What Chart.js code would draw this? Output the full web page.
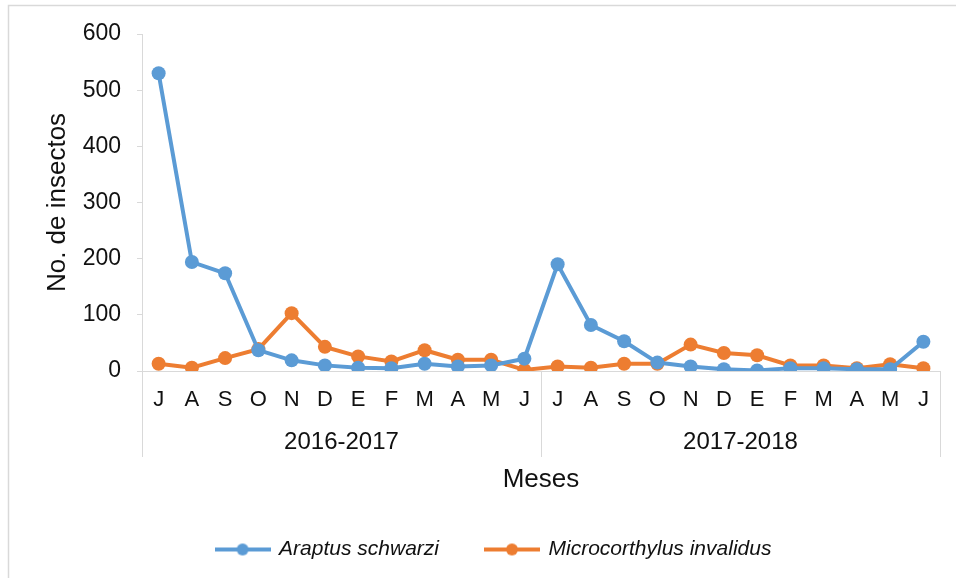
<!DOCTYPE html>
<html>
<head>
<meta charset="utf-8">
<script src="https://cdn.jsdelivr.net/npm/chart.js@4"></script>
<style>
  body { margin: 0; background: #fff; }
  canvas { display: block; }
</style>
</head>
<body>
<canvas id="chart1" width="956" height="578"></canvas>
<script>
// months per season, and season labels
const months = ['J', 'A', 'S', 'O', 'N', 'D', 'E', 'F', 'M', 'A', 'M', 'J',
                'J', 'A', 'S', 'O', 'N', 'D', 'E', 'F', 'M', 'A', 'M', 'J'];
const seasons = ['2016-2017', '2017-2018'];

// insect counts
const araptus = [530, 194, 174, 37, 19, 10, 6, 5, 13, 8, 10, 22,
                 190, 82, 53, 15, 8, 3, 1, 5, 5, 3, 3, 52];
const microcorthylus = [13, 6, 23, 39, 103, 43, 26, 17, 37, 20, 20, 2,
                        8, 6, 13, 13, 47, 32, 28, 10, 10, 5, 12, 5];

const yTicks = { min: 0, max: 600, step: 100 };

const blue = '#5B9BD5';
const orange = '#ED7D31';
const grey = '#d9d9d9';
const font = "'Liberation Sans', Arial, sans-serif";

// legend marker: line with a dot in the middle
function legendMarker(color) {
    const c = document.createElement('canvas');
    c.width = 56;
    c.height = 14;
    const g = c.getContext('2d');
    g.strokeStyle = color;
    g.lineWidth = 4;
    g.beginPath();
    g.moveTo(0, 7);
    g.lineTo(56, 7);
    g.stroke();
    g.fillStyle = color;
    g.beginPath();
    g.arc(28, 7, 6, 0, Math.PI * 2);
    g.fill();
    return c;
}

// outer frame + season separators
const framePlugin = {
    id: 'frame',
    afterLayout(chart) {
        // legend sits a bit right of centre in the original
        if (chart.legend) {
            chart.legend.left += 24;
            chart.legend.right += 24;
        }
    },
    beforeDraw(chart) {
        const ctx = chart.ctx;
        ctx.save();
        ctx.strokeStyle = grey;
        ctx.lineWidth = 1.5;
        ctx.strokeRect(8.5, 5.5, 1000, 1000);
        ctx.restore();
    },
    afterDraw(chart) {
        const xs = chart.scales.x;
        const x2 = chart.scales.x2;
        const ctx = chart.ctx;
        ctx.save();
        ctx.strokeStyle = grey;
        ctx.lineWidth = 1;
        [-0.5, 11.5, 23.5].forEach(v => {
            const px = Math.round(xs.getPixelForValue(v)) + 0.5;
            ctx.beginPath();
            ctx.moveTo(px, xs.top);
            ctx.lineTo(px, x2.top + 46);
            ctx.stroke();
        });
        ctx.restore();
    }
};

const ctx = document.querySelector('#chart1');

const chart = new Chart(ctx, {
    type: 'line',
    data: {
        labels: months,
        datasets: [{
            label: 'Araptus schwarzi',
            data: araptus,
            borderColor: blue,
            backgroundColor: blue,
            borderWidth: 4,
            pointRadius: 7,
            pointBorderWidth: 0,
            pointStyle: 'circle',
            tension: 0
        }, {
            label: 'Microcorthylus invalidus',
            data: microcorthylus,
            borderColor: orange,
            backgroundColor: orange,
            borderWidth: 4,
            pointRadius: 7,
            pointBorderWidth: 0,
            pointStyle: 'circle',
            tension: 0
        }]
    },
    options: {
        responsive: false,
        animation: false,
        devicePixelRatio: 1,
        layout: {
            padding: { top: 34, right: 16, bottom: 8, left: 0 }
        },
        plugins: {
            tooltip: { enabled: false },
            legend: {
                position: 'bottom',
                labels: {
                    usePointStyle: true,
                    pointStyleWidth: 52,
                    boxWidth: 52,
                    boxHeight: 14,
                    padding: 47,
                    color: '#111',
                    font: { family: font, size: 21, style: 'italic' },
                    generateLabels(chart) {
                        return chart.data.datasets.map((ds, i) => ({
                            text: ds.label,
                            fillStyle: ds.borderColor,
                            strokeStyle: ds.borderColor,
                            lineWidth: 0,
                            pointStyle: legendMarker(ds.borderColor),
                            fontColor: '#111',
                            datasetIndex: i
                        }));
                    }
                }
            }
        },
        scales: {
            x: {
                type: 'category',
                offset: true,
                grid: { display: false },
                border: { color: grey, width: 1 },
                ticks: {
                    autoSkip: false,
                    maxRotation: 0,
                    padding: 8,
                    color: '#111',
                    font: { family: font, size: 22 }
                },
                afterFit(s) { s.height = 40; }
            },
            x2: {
                type: 'category',
                position: 'bottom',
                labels: seasons,
                offset: true,
                grid: { display: false },
                border: { display: false },
                ticks: {
                    padding: 9,
                    color: '#111',
                    font: { family: font, size: 24 }
                },
                title: {
                    display: true,
                    text: 'Meses',
                    color: '#111',
                    padding: { top: 0, bottom: -3 },
                    font: { family: font, size: 26 }
                },
                afterFit(s) { s.height = 81; }
            },
            y: {
                min: yTicks.min,
                max: yTicks.max,
                grid: {
                    drawOnChartArea: false,
                    drawTicks: true,
                    tickLength: 5,
                    color: grey
                },
                border: { color: grey, width: 1 },
                ticks: {
                    stepSize: yTicks.step,
                    padding: 16,
                    color: '#111',
                    font: { family: font, size: 23 }
                },
                title: {
                    display: true,
                    text: 'No. de insectos',
                    color: '#111',
                    padding: { top: 42, bottom: 0 },
                    font: { family: font, size: 26 }
                },
                afterFit(s) { s.width = 142; }
            }
        }
    },
    plugins: [framePlugin]
});
</script>
</body>
</html>
